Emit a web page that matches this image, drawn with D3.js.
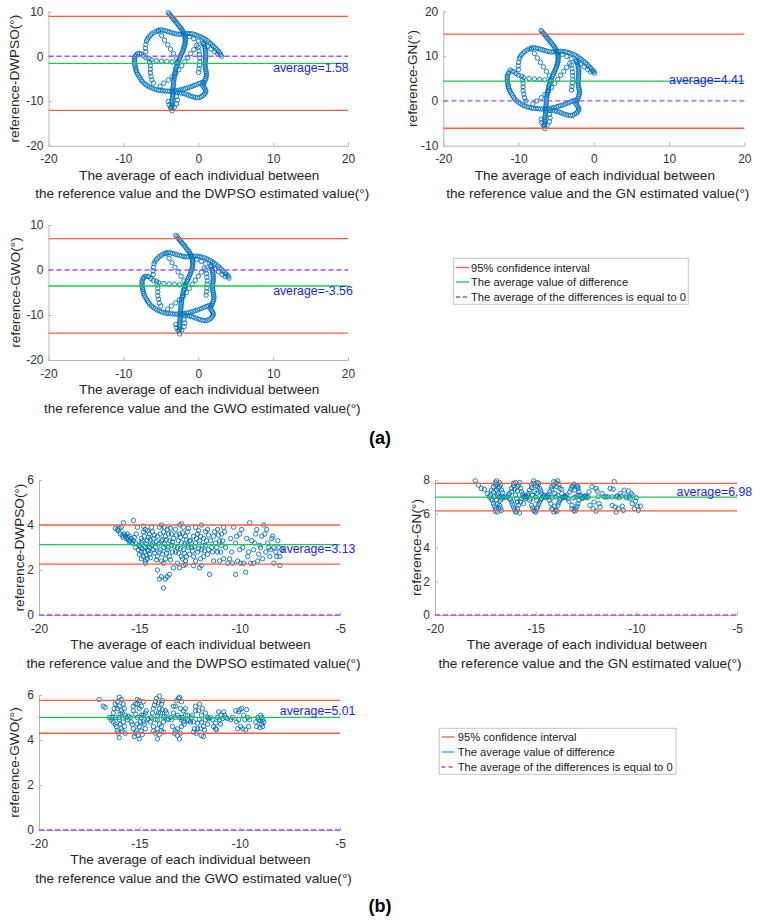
<!DOCTYPE html>
<html>
<head>
<meta charset="utf-8">
<script src="https://cdnjs.cloudflare.com/ajax/libs/d3/7.8.5/d3.min.js"></script>
<style>
  body { margin: 0; background: #fff; }
  text { font-family: "Liberation Sans", Arial, sans-serif; }
</style>
</head>
<body>
<script>
// (a) scatter: [average, difference] pairs, strand by strand
var dwpsoA = [
  [-4.0,9.7],[-3.7,9.1],[-3.4,8.5],[-3.1,7.9],[-2.8,7.3],[-2.5,6.6],[-2.2,6.0],[-2.0,5.3],[-1.8,4.6],[-1.75,3.9],[-1.75,3.2],[-1.8,2.5],[-1.95,1.8],[-2.1,1.0],[-2.3,0.3],[-2.5,-0.5],[-2.7,-1.3],[-2.85,-2.1],[-3.0,-2.9],[-3.1,-3.7],[-3.2,-4.5],[-3.25,-5.3],[-3.3,-6.1],[-3.35,-6.9],[-3.4,-7.7],[-3.4,-8.5],[-3.45,-9.3],[-3.5,-10.1],[-3.5,-10.9],[-3.55,-11.6],[-3.5,-12.2],
  [-3.85,9.4],[-3.55,8.8],[-3.25,8.2],[-2.95,7.6],[-2.65,6.95],[-2.35,6.3],[-2.1,5.65],[-1.9,4.95],[-1.75,4.25],[-1.72,3.55],[-1.75,2.85],[-1.85,2.15],[-2.0,1.4],[-2.2,0.65],[-2.4,-0.1],[-2.6,-0.9],[-2.8,-1.7],[-2.95,-2.5],[-3.05,-3.3],[-3.15,-4.1],[-3.22,-4.9],[-3.3,-5.7],[-3.32,-6.5],[-3.38,-7.3],[-3.4,-8.1],[-3.42,-8.9],[-3.48,-9.7],[-3.5,-10.5],[-3.52,-11.25],
  [-7.0,1.0],[-7.05,1.8],[-7.0,2.6],[-6.9,3.4],[-6.6,4.3],[-6.2,5.0],[-5.6,5.6],[-5.0,5.9],[-4.4,5.7],[-3.8,5.4],[-3.2,5.1],[-2.6,4.9],[-2.0,5.0],[-1.4,5.1],[-0.8,5.0],[-0.2,4.7],[0.4,4.3],[0.9,3.8],[1.4,3.2],[1.9,2.5],[2.3,1.8],[2.7,1.1],[3.0,0.4],[3.1,0.0],
  [-6.8,3.85],[-6.4,4.65],[-5.9,5.3],[-5.3,5.8],[-4.7,5.8],[-4.1,5.55],[-3.5,5.25],[-2.9,5.0],[-2.3,4.95],[-1.7,5.05],[-1.1,5.05],[-0.5,4.85],[0.1,4.5],[0.65,4.05],[1.15,3.5],[1.65,2.85],[2.1,2.15],[2.5,1.45],[2.85,0.75],
  [-1.2,4.4],[-0.6,3.9],[0.0,3.4],[0.6,2.8],[1.2,2.2],[1.7,1.6],[2.2,1.0],[2.6,0.5],
  [0.7,3.0],[0.85,2.2],[0.95,1.4],[1.0,0.6],[1.0,-0.2],[0.95,-1.0],[0.9,-1.8],[0.95,-2.6],[1.05,-3.4],[1.1,-4.2],[1.0,-5.0],[0.8,-5.8],[0.6,-6.6],
  [0.78,2.6],[0.9,1.8],[0.98,1.0],[1.0,0.2],[0.98,-0.6],[0.92,-1.4],[0.92,-2.2],[1.0,-3.0],[1.08,-3.8],[1.05,-4.6],[0.9,-5.4],[0.7,-6.2],
  [0.0,2.0],[0.1,1.2],[0.15,0.4],[0.2,-0.4],[0.2,-1.2],[0.15,-2.0],[0.1,-2.8],[0.05,-3.6],
  [0.9,-7.3],[1.0,-8.0],[0.7,-8.7],[0.2,-9.2],[-0.4,-9.2],[-1.0,-8.9],[-1.6,-8.5],[-2.2,-8.2],[-2.8,-8.1],
  [0.75,-6.95],[1.0,-7.65],[0.88,-8.35],[0.45,-8.95],[-0.1,-9.25],[-0.7,-9.05],[-1.3,-8.7],[-1.9,-8.35],[-2.5,-8.15],
  [-2.8,-1.4],[-3.5,-1.3],[-4.2,-1.2],[-4.9,-1.1],[-5.6,-1.0],[-6.3,-0.8],[-7.0,-0.3],[-7.6,0.5],[-8.1,0.6],[-8.4,0.0],[-8.5,-0.8],[-8.5,-1.6],[-8.4,-2.4],[-8.3,-3.2],[-8.1,-4.0],[-7.8,-4.8],[-7.5,-5.6],[-7.0,-6.3],[-6.5,-6.9],[-5.9,-7.3],[-5.3,-7.6],[-4.7,-7.7],[-4.1,-7.8],[-3.5,-7.8],[-2.9,-7.7],[-2.3,-7.5],[-1.7,-7.2],[-1.1,-6.9],[-0.5,-6.5],[0.1,-6.1],[0.6,-5.8],
  [-7.3,0.1],[-7.85,0.6],[-8.3,0.3],[-8.5,-0.4],[-8.5,-1.2],[-8.45,-2.0],[-8.35,-2.8],[-8.2,-3.6],[-7.95,-4.4],[-7.65,-5.2],[-7.25,-6.0],[-6.75,-6.6],[-6.2,-7.1],[-5.6,-7.45],[-5.0,-7.65],[-4.4,-7.75],[-3.8,-7.8],[-3.2,-7.75],[-2.6,-7.6],[-2.0,-7.35],[-1.4,-7.05],[-0.8,-6.7],[-0.2,-6.3],[0.35,-5.95],
  [-6.6,-0.5],[-6.5,-1.3],[-6.4,-2.1],[-6.4,-2.9],[-6.4,-3.7],[-6.3,-4.5],[-6.2,-5.3],[-6.0,-6.0],
  [-5.3,5.6],[-4.9,4.6],[-4.5,3.6],[-4.1,2.6],[-3.7,1.6],[-3.3,0.6],[-2.9,-0.4],
  [-0.2,2.4],[-0.6,1.5],[-1.0,0.6],[-1.4,-0.3],[-1.8,-1.2],[-2.2,-2.1],[-2.6,-3.0],[-3.0,-3.8],[-3.5,-4.6],[-4.0,-5.3],[-4.6,-6.0],[-5.1,-6.7],
  [-4.0,-10.1],[-3.9,-10.8],[-3.7,-11.5],[-3.2,-11.4],[-2.9,-10.6],[-2.8,-9.8],[-2.9,-9.0]
];
var gnA = [
  [-7.0,15.7],[-6.7,15.1],[-6.4,14.5],[-6.1,13.9],[-5.8,13.3],[-5.5,12.6],[-5.2,12.0],[-5.0,11.3],[-4.8,10.6],[-4.75,9.9],[-4.75,9.2],[-4.8,8.5],[-4.95,7.8],[-5.1,7.0],[-5.3,6.3],[-5.5,5.5],[-5.7,4.7],[-5.85,3.9],[-6.0,3.1],[-6.1,2.3],[-6.2,1.5],[-6.25,0.7],[-6.3,-0.1],[-6.35,-0.9],[-6.4,-1.7],[-6.4,-2.5],[-6.45,-3.3],[-6.5,-4.1],[-6.5,-4.9],[-6.55,-5.6],[-6.5,-6.2],
  [-6.85,15.4],[-6.55,14.8],[-6.25,14.2],[-5.95,13.6],[-5.65,12.95],[-5.35,12.3],[-5.1,11.65],[-4.9,10.95],[-4.75,10.25],[-4.72,9.55],[-4.75,8.85],[-4.85,8.15],[-5.0,7.4],[-5.2,6.65],[-5.4,5.9],[-5.6,5.1],[-5.8,4.3],[-5.95,3.5],[-6.05,2.7],[-6.15,1.9],[-6.22,1.1],[-6.3,0.3],[-6.32,-0.5],[-6.38,-1.3],[-6.4,-2.1],[-6.42,-2.9],[-6.48,-3.7],[-6.5,-4.5],[-6.52,-5.25],
  [-10.0,7.0],[-10.05,7.8],[-10.0,8.6],[-9.9,9.4],[-9.6,10.3],[-9.2,11.0],[-8.6,11.6],[-8.0,11.9],[-7.4,11.7],[-6.8,11.4],[-6.2,11.1],[-5.6,10.9],[-5.0,11.0],[-4.4,11.1],[-3.8,11.0],[-3.2,10.7],[-2.6,10.3],[-2.1,9.8],[-1.6,9.2],[-1.1,8.5],[-0.7,7.8],[-0.3,7.1],[0.0,6.6],[0.1,6.2],
  [-9.8,9.85],[-9.4,10.65],[-8.9,11.3],[-8.3,11.8],[-7.7,11.8],[-7.1,11.55],[-6.5,11.25],[-5.9,11.0],[-5.3,10.95],[-4.7,11.05],[-4.1,11.05],[-3.5,10.85],[-2.9,10.5],[-2.35,10.05],[-1.85,9.5],[-1.35,8.85],[-0.9,8.15],[-0.5,7.45],[-0.15,6.75],
  [-4.2,10.4],[-3.6,9.9],[-3.0,9.4],[-2.4,8.8],[-1.8,8.2],[-1.3,7.6],[-0.8,7.0],[-0.4,6.5],
  [-2.3,9.0],[-2.15,8.2],[-2.05,7.4],[-2.0,6.6],[-2.0,5.8],[-2.05,5.0],[-2.1,4.2],[-2.05,3.4],[-1.95,2.6],[-1.9,1.8],[-2.0,1.0],[-2.2,0.2],[-2.4,-0.6],
  [-2.22,8.6],[-2.1,7.8],[-2.02,7.0],[-2.0,6.2],[-2.02,5.4],[-2.08,4.6],[-2.08,3.8],[-2.0,3.0],[-1.92,2.2],[-1.95,1.4],[-2.1,0.6],[-2.3,-0.2],
  [-3.0,8.0],[-2.9,7.2],[-2.85,6.4],[-2.8,5.6],[-2.8,4.8],[-2.85,4.0],[-2.9,3.2],[-2.95,2.4],
  [-2.1,-1.3],[-2.0,-2.0],[-2.3,-2.7],[-2.8,-3.2],[-3.4,-3.2],[-4.0,-2.9],[-4.6,-2.5],[-5.2,-2.2],[-5.8,-2.1],
  [-2.25,-0.95],[-2.0,-1.65],[-2.12,-2.35],[-2.55,-2.95],[-3.1,-3.25],[-3.7,-3.05],[-4.3,-2.7],[-4.9,-2.35],[-5.5,-2.15],
  [-5.8,4.6],[-6.5,4.7],[-7.2,4.8],[-7.9,4.9],[-8.6,5.0],[-9.3,5.2],[-10.0,5.7],[-10.6,6.5],[-11.1,6.9],[-11.4,6.0],[-11.5,5.2],[-11.5,4.4],[-11.4,3.6],[-11.3,2.8],[-11.1,2.0],[-10.8,1.2],[-10.5,0.4],[-10.0,-0.3],[-9.5,-0.9],[-8.9,-1.3],[-8.3,-1.6],[-7.7,-1.7],[-7.1,-1.8],[-6.5,-1.8],[-5.9,-1.7],[-5.3,-1.5],[-4.7,-1.2],[-4.1,-0.9],[-3.5,-0.5],[-2.9,-0.1],[-2.4,0.2],
  [-10.3,6.1],[-10.85,6.6],[-11.3,6.3],[-11.5,5.6],[-11.5,4.8],[-11.45,4.0],[-11.35,3.2],[-11.2,2.4],[-10.95,1.6],[-10.65,0.8],[-10.25,0.0],[-9.75,-0.6],[-9.2,-1.1],[-8.6,-1.45],[-8.0,-1.65],[-7.4,-1.75],[-6.8,-1.8],[-6.2,-1.75],[-5.6,-1.6],[-5.0,-1.35],[-4.4,-1.05],[-3.8,-0.7],[-3.2,-0.3],[-2.65,0.05],
  [-9.6,5.5],[-9.5,4.7],[-9.4,3.9],[-9.4,3.1],[-9.4,2.3],[-9.3,1.5],[-9.2,0.7],[-9.0,0.0],
  [-8.3,11.6],[-7.9,10.6],[-7.5,9.6],[-7.1,8.6],[-6.7,7.6],[-6.3,6.6],[-5.9,5.6],
  [-3.2,8.4],[-3.6,7.5],[-4.0,6.6],[-4.4,5.7],[-4.8,4.8],[-5.2,3.9],[-5.6,3.0],[-6.0,2.2],[-6.5,1.4],[-7.0,0.7],[-7.6,0.0],[-8.1,-0.7],
  [-7.0,-4.1],[-6.9,-4.8],[-6.7,-5.5],[-6.2,-5.4],[-5.9,-4.6],[-5.8,-3.8],[-5.9,-3.0]
];
var gwoA = [
  [-3.0,7.7],[-2.7,7.1],[-2.4,6.5],[-2.1,5.9],[-1.8,5.3],[-1.5,4.6],[-1.2,4.0],[-1.0,3.3],[-0.8,2.6],[-0.75,1.9],[-0.75,1.2],[-0.8,0.5],[-0.95,-0.2],[-1.1,-1.0],[-1.3,-1.7],[-1.5,-2.5],[-1.7,-3.3],[-1.85,-4.1],[-2.0,-4.9],[-2.1,-5.7],[-2.2,-6.5],[-2.25,-7.3],[-2.3,-8.1],[-2.35,-8.9],[-2.4,-9.7],[-2.4,-10.5],[-2.45,-11.3],[-2.5,-12.1],[-2.5,-12.9],[-2.55,-13.6],[-2.5,-14.2],
  [-2.85,7.4],[-2.55,6.8],[-2.25,6.2],[-1.95,5.6],[-1.65,4.95],[-1.35,4.3],[-1.1,3.65],[-0.9,2.95],[-0.75,2.25],[-0.72,1.55],[-0.75,0.85],[-0.85,0.15],[-1.0,-0.6],[-1.2,-1.35],[-1.4,-2.1],[-1.6,-2.9],[-1.8,-3.7],[-1.95,-4.5],[-2.05,-5.3],[-2.15,-6.1],[-2.22,-6.9],[-2.3,-7.7],[-2.32,-8.5],[-2.38,-9.3],[-2.4,-10.1],[-2.42,-10.9],[-2.48,-11.7],[-2.5,-12.5],[-2.52,-13.25],
  [-6.0,-1.0],[-6.05,-0.2],[-6.0,0.6],[-5.9,1.4],[-5.6,2.3],[-5.2,3.0],[-4.6,3.6],[-4.0,3.9],[-3.4,3.7],[-2.8,3.4],[-2.2,3.1],[-1.6,2.9],[-1.0,3.0],[-0.4,3.1],[0.2,3.0],[0.8,2.7],[1.4,2.3],[1.9,1.8],[2.4,1.2],[2.9,0.5],[3.3,-0.2],[3.7,-0.9],[4.0,-1.4],[4.1,-1.8],
  [-5.8,1.85],[-5.4,2.65],[-4.9,3.3],[-4.3,3.8],[-3.7,3.8],[-3.1,3.55],[-2.5,3.25],[-1.9,3.0],[-1.3,2.95],[-0.7,3.05],[-0.1,3.05],[0.5,2.85],[1.1,2.5],[1.65,2.05],[2.15,1.5],[2.65,0.85],[3.1,0.15],[3.5,-0.55],[3.85,-1.2],
  [-0.2,2.4],[0.4,1.9],[1.0,1.4],[1.6,0.8],[2.2,0.2],[2.7,-0.4],[3.2,-1.0],[3.6,-1.5],
  [1.7,1.0],[1.85,0.2],[1.95,-0.6],[2.0,-1.4],[2.0,-2.2],[1.95,-3.0],[1.9,-3.8],[1.95,-4.6],[2.05,-5.4],[2.1,-6.2],[2.0,-7.0],[1.8,-7.8],[1.6,-8.6],
  [1.78,0.6],[1.9,-0.2],[1.98,-1.0],[2.0,-1.8],[1.98,-2.6],[1.92,-3.4],[1.92,-4.2],[2.0,-5.0],[2.08,-5.8],[2.05,-6.6],[1.9,-7.4],[1.7,-8.2],
  [1.0,0.0],[1.1,-0.8],[1.15,-1.6],[1.2,-2.4],[1.2,-3.2],[1.15,-4.0],[1.1,-4.8],[1.05,-5.6],
  [1.9,-9.3],[2.0,-10.0],[1.7,-10.7],[1.2,-11.2],[0.6,-11.2],[0.0,-10.9],[-0.6,-10.5],[-1.2,-10.2],[-1.8,-10.1],
  [1.75,-8.95],[2.0,-9.65],[1.88,-10.35],[1.45,-10.95],[0.9,-11.25],[0.3,-11.05],[-0.3,-10.7],[-0.9,-10.35],[-1.5,-10.15],
  [-1.8,-3.4],[-2.5,-3.3],[-3.2,-3.2],[-3.9,-3.1],[-4.6,-3.0],[-5.3,-2.8],[-6.0,-2.3],[-6.6,-1.5],[-7.1,-1.4],[-7.4,-2.0],[-7.5,-2.8],[-7.5,-3.6],[-7.4,-4.4],[-7.3,-5.2],[-7.1,-6.0],[-6.8,-6.8],[-6.5,-7.6],[-6.0,-8.3],[-5.5,-8.9],[-4.9,-9.3],[-4.3,-9.6],[-3.7,-9.7],[-3.1,-9.8],[-2.5,-9.8],[-1.9,-9.7],[-1.3,-9.5],[-0.7,-9.2],[-0.1,-8.9],[0.5,-8.5],[1.1,-8.1],[1.6,-7.8],
  [-6.3,-1.9],[-6.85,-1.4],[-7.3,-1.7],[-7.5,-2.4],[-7.5,-3.2],[-7.45,-4.0],[-7.35,-4.8],[-7.2,-5.6],[-6.95,-6.4],[-6.65,-7.2],[-6.25,-8.0],[-5.75,-8.6],[-5.2,-9.1],[-4.6,-9.45],[-4.0,-9.65],[-3.4,-9.75],[-2.8,-9.8],[-2.2,-9.75],[-1.6,-9.6],[-1.0,-9.35],[-0.4,-9.05],[0.2,-8.7],[0.8,-8.3],[1.35,-7.95],
  [-5.6,-2.5],[-5.5,-3.3],[-5.4,-4.1],[-5.4,-4.9],[-5.4,-5.7],[-5.3,-6.5],[-5.2,-7.3],[-5.0,-8.0],
  [-4.3,3.6],[-3.9,2.6],[-3.5,1.6],[-3.1,0.6],[-2.7,-0.4],[-2.3,-1.4],[-1.9,-2.4],
  [0.8,0.4],[0.4,-0.5],[0.0,-1.4],[-0.4,-2.3],[-0.8,-3.2],[-1.2,-4.1],[-1.6,-5.0],[-2.0,-5.8],[-2.5,-6.6],[-3.0,-7.3],[-3.6,-8.0],[-4.1,-8.7],
  [-3.0,-12.1],[-2.9,-12.8],[-2.7,-13.5],[-2.2,-13.4],[-1.9,-12.6],[-1.8,-11.8],[-1.9,-11.0]
];

// (b) scatter
var dwpsoB = [
  [-16.1,3.8],[-16.0,3.85],[-15.9,3.9],[-15.8,4.1],[-15.7,3.5],[-15.6,3.45],[-15.8,3.45],[-15.5,3.5],[-15.4,3.4],[-15.6,3.6],[-15.3,3.3],[-15.2,3.2],[-15.5,3.25],[-15.3,4.2],[-15.1,3.9],
  [-16.2,3.85],[-16.05,3.75],[-15.95,3.6],[-15.85,3.55],[-15.75,3.6],[-15.65,3.4],[-15.55,3.35],[-15.45,3.3],[-15.35,3.2],[-15.25,3.45],[-15.2,3.0],[-15.15,3.6],
  [-15.0,3.1],[-14.9,2.8],[-14.9,3.4],[-14.8,2.6],[-14.8,3.7],[-14.7,2.4],[-14.7,3.0],[-14.7,3.8],[-14.6,2.9],[-14.6,3.3],[-14.6,2.5],[-14.5,3.6],[-14.5,2.7],[-14.4,3.1],[-14.4,3.9],[-14.3,2.9],[-14.3,3.4],[-15.0,2.7],[-14.9,3.2],[-14.5,3.0],
  [-15.05,2.9],[-14.95,3.0],[-14.85,2.95],[-14.85,3.3],[-14.75,3.5],[-14.75,2.8],[-14.65,3.15],[-14.65,2.65],[-14.55,3.45],[-14.55,2.85],[-14.45,3.35],[-14.45,2.55],[-14.35,3.7],[-14.35,3.15],[-14.25,2.75],[-14.25,3.55],[-14.8,3.95],[-14.6,3.75],[-14.9,2.5],[-14.7,2.3],
  [-14.2,3.0],[-14.1,2.6],[-14.1,3.5],[-14.0,3.9],[-14.0,2.8],[-13.9,3.3],[-13.9,2.4],[-13.9,4.0],[-13.8,3.7],[-13.8,3.0],[-13.7,2.5],[-13.7,3.5],[-13.6,3.8],[-13.6,2.9],[-13.5,3.3],[-13.5,2.6],[-13.4,3.1],[-13.4,3.6],[-14.1,2.0],[-13.9,1.7],[-13.8,1.2],[-13.7,1.6],[-13.6,1.7],[-13.5,1.8],[-14.0,1.6],[-13.3,2.1],
  [-14.15,3.25],[-14.05,3.15],[-13.95,2.9],[-13.95,3.6],[-13.85,3.35],[-13.85,2.7],[-13.75,3.9],[-13.75,3.15],[-13.65,2.75],[-13.65,3.35],[-13.55,3.6],[-13.55,3.0],[-13.45,2.45],[-13.45,3.85],[-13.35,3.25],[-13.35,2.8],[-14.15,2.45],[-13.8,2.3],
  [-13.3,3.4],[-13.2,2.8],[-13.2,3.8],[-13.1,3.0],[-13.1,2.3],[-13.0,3.6],[-13.0,4.0],[-12.9,2.6],[-12.9,3.2],[-12.8,3.9],[-12.8,2.9],[-12.7,3.5],[-12.7,2.4],[-12.6,3.1],[-12.6,3.7],[-12.5,2.7],[-12.5,3.3],[-13.0,2.1],[-12.8,2.2],
  [-13.25,3.05],[-13.15,3.55],[-13.05,2.75],[-13.05,3.3],[-12.95,3.45],[-12.95,2.95],[-12.85,3.65],[-12.85,2.5],[-12.75,3.15],[-12.75,2.75],[-12.65,3.35],[-12.65,2.6],[-12.55,3.0],[-12.55,3.85],[-12.9,4.05],[-12.7,2.25],
  [-12.4,3.0],[-12.3,3.5],[-12.3,2.6],[-12.2,3.9],[-12.2,3.2],[-12.1,2.8],[-12.1,3.6],[-12.0,2.1],[-12.0,3.3],[-11.9,4.0],[-11.9,2.9],[-11.8,3.4],[-11.8,2.6],[-11.7,3.7],[-11.7,3.1],[-11.6,3.8],[-11.6,2.7],[-11.5,1.8],[-12.3,2.2],
  [-12.45,3.3],[-12.35,2.85],[-12.25,3.05],[-12.15,3.4],[-12.05,2.95],[-12.05,3.75],[-11.95,3.5],[-11.95,2.5],[-11.85,3.1],[-11.75,2.85],[-11.65,3.3],[-11.55,3.55],[-11.55,2.9],[-12.2,2.4],[-11.9,2.2],
  [-11.4,3.0],[-11.3,3.5],[-11.3,2.4],[-11.2,3.2],[-11.1,3.8],[-11.1,2.8],[-11.0,3.3],[-11.0,2.4],[-10.9,3.6],[-10.9,3.1],[-10.8,3.9],[-10.8,2.5],
  [-11.45,3.3],[-11.35,2.8],[-11.25,3.7],[-11.15,3.0],[-11.05,3.55],[-10.95,2.8],[-10.85,3.3],[-10.75,3.7],[-10.7,3.0],
  [-10.6,2.3],[-10.5,2.5],[-10.4,2.8],[-10.3,3.9],[-10.2,3.2],[-10.2,1.8],[-10.1,2.4],[-10.0,3.6],[-10.0,2.9],[-9.9,3.8],
  [-10.45,3.4],[-10.35,2.3],[-10.15,3.5],[-9.95,2.3],[-9.85,3.0],
  [-9.8,2.3],[-9.7,1.9],[-9.6,2.6],[-9.5,4.1],[-9.4,3.3],[-9.3,2.9],[-9.2,3.6],[-9.1,2.4],[-9.0,3.1],[-9.3,2.3],
  [-9.65,3.4],[-9.55,2.8],[-9.45,2.3],[-9.25,3.2],[-9.15,3.8],[-9.05,2.7],
  [-8.9,3.5],[-8.8,4.0],[-8.7,2.8],[-8.6,3.2],[-8.5,2.6],[-8.4,3.4],[-8.3,2.3],[-8.3,3.0],[-8.2,2.8],[-8.1,3.3],[-8.0,2.2],[-8.0,2.6],[-7.9,2.9],
  [-8.95,3.0],[-8.85,2.5],[-8.75,3.6],[-8.65,3.8],[-8.55,3.0],[-8.45,2.9],[-8.35,3.5],[-8.15,2.6],[-8.05,3.0]
];
var gnB = [
  [-18.0,7.95],[-17.85,7.7],[-17.7,7.5],[-17.55,7.45],[-17.4,7.2],[-17.3,7.0],
  [-17.2,6.9],[-17.1,7.3],[-17.1,6.6],[-17.0,7.7],[-17.0,6.3],[-16.95,7.95],[-16.9,7.1],[-16.9,6.1],[-16.85,7.5],[-16.8,6.5],[-16.8,7.85],[-16.75,6.8],[-16.7,7.4],[-16.7,6.2],[-16.65,7.0],[-17.05,7.0],[-16.95,6.8],[-16.85,7.2],
  [-17.25,7.1],[-17.15,6.8],[-17.1,7.6],[-17.05,6.45],[-17.0,7.85],[-17.0,6.15],[-16.95,7.4],[-16.9,6.6],[-16.9,7.75],[-16.85,6.3],[-16.8,7.0],[-16.8,7.6],[-16.75,6.35],[-16.7,6.9],[-16.65,7.25],[-16.6,6.95],[-17.2,7.4],[-16.75,7.7],
  [-16.4,7.0],[-16.3,7.2],[-16.2,6.7],[-16.2,7.5],[-16.1,6.4],[-16.1,7.8],[-16.0,6.1],[-16.0,7.1],[-15.9,7.6],[-15.9,6.3],[-15.8,6.05],[-15.8,7.85],[-15.7,6.9],[-15.7,7.3],[-15.6,6.6],[-15.6,7.0],[-15.5,6.9],[-16.3,6.9],[-15.95,6.9],
  [-16.35,7.1],[-16.25,6.85],[-16.2,7.3],[-16.15,6.55],[-16.1,7.65],[-16.05,6.25],[-16.0,7.85],[-15.95,6.15],[-15.9,7.35],[-15.85,6.5],[-15.85,7.7],[-15.75,6.7],[-15.75,7.5],[-15.65,7.15],[-15.55,7.05],[-15.5,7.0],[-16.05,7.45],[-15.9,6.7],
  [-15.4,7.1],[-15.3,6.8],[-15.3,7.4],[-15.2,6.5],[-15.2,7.7],[-15.1,6.2],[-15.1,7.95],[-15.0,7.0],[-15.0,6.1],[-14.9,7.85],[-14.9,6.4],[-14.8,7.5],[-14.8,6.7],[-14.7,7.2],[-14.7,6.9],[-14.6,7.1],[-15.05,7.3],[-14.95,6.8],
  [-15.45,7.0],[-15.35,7.2],[-15.25,6.9],[-15.2,7.55],[-15.15,6.35],[-15.1,7.8],[-15.05,6.15],[-15.0,7.65],[-14.95,6.3],[-14.9,7.6],[-14.85,6.55],[-14.85,7.8],[-14.75,6.85],[-14.75,7.35],[-14.65,7.0],[-14.55,7.05],[-15.15,7.1],[-14.95,7.2],
  [-14.4,7.0],[-14.3,6.8],[-14.3,7.3],[-14.2,6.3],[-14.2,7.6],[-14.1,6.1],[-14.1,7.9],[-14.0,7.0],[-14.0,6.2],[-13.9,7.95],[-13.9,6.5],[-13.8,7.5],[-13.8,6.8],[-13.7,7.2],[-13.6,7.0],[-14.05,7.2],
  [-14.45,7.05],[-14.35,7.15],[-14.25,6.6],[-14.2,7.45],[-14.15,6.25],[-14.1,7.7],[-14.05,6.45],[-14.0,7.85],[-13.95,6.15],[-13.95,7.6],[-13.85,6.65],[-13.85,7.75],[-13.75,6.9],[-13.7,7.45],[-13.65,6.95],[-13.55,7.05],[-14.2,6.95],[-13.9,7.1],
  [-13.5,7.0],[-13.4,6.9],[-13.3,7.3],[-13.2,7.6],[-13.2,6.5],[-13.1,6.2],[-13.1,7.75],[-13.0,7.0],[-13.0,6.3],[-12.9,7.5],[-12.9,6.6],[-12.8,7.1],[-12.7,6.9],[-12.6,7.0],
  [-13.45,7.1],[-13.35,6.75],[-13.25,7.45],[-13.2,6.3],[-13.15,7.65],[-13.05,6.15],[-13.05,7.4],[-12.95,6.45],[-12.95,7.65],[-12.85,6.8],[-12.85,7.3],[-12.75,7.05],[-12.65,6.95],[-13.1,6.95],[-12.9,7.1],
  [-16.5,7.0],[-15.5,7.05],[-14.5,6.95],[-13.55,7.0],[-12.55,7.05],[-12.45,6.95],[-11.5,7.0],[-10.95,7.05],[-10.5,6.95],[-12.9,7.6],[-12.5,7.05],
  [-12.4,7.0],[-12.3,6.5],[-12.2,7.6],[-12.1,6.7],[-12.0,6.15],[-12.0,7.5],[-11.9,7.0],[-11.8,6.4],[-11.7,7.2],[-11.6,7.0],
  [-12.35,7.3],[-12.15,6.3],[-11.95,7.35],[-11.85,6.6],
  [-11.4,7.0],[-11.3,7.5],[-11.2,6.5],[-11.1,7.9],[-11.0,6.1],[-11.0,7.0],[-10.9,6.3],[-10.8,7.2],[-10.7,6.45],[-10.6,7.4],[-11.2,7.0],[-10.85,6.95],
  [-11.15,7.45],[-11.05,6.4],[-10.75,7.05],[-10.65,6.2],
  [-10.5,7.05],[-10.4,7.35],[-10.3,6.9],[-10.2,7.1],[-10.2,6.6],[-10.1,6.3],[-10.0,6.95],[-9.95,6.45],[-9.9,6.2],[-9.8,6.45],
  [-10.35,7.0],[-10.25,7.2],[-10.05,6.75]
];
var gwoB = [
  [-17.0,5.8],[-16.8,5.5],[-16.7,5.45],[-16.5,5.0],[-16.4,4.9],
  [-16.3,5.2],[-16.2,4.7],[-16.2,5.6],[-16.1,4.4],[-16.1,5.4],[-16.0,4.1],[-16.0,5.0],[-16.0,5.9],[-15.9,4.5],[-15.9,5.3],[-15.8,4.8],[-15.8,5.6],[-15.7,5.1],[-15.7,4.3],[-15.6,4.9],[-16.2,5.0],[-15.95,5.15],
  [-16.35,5.0],[-16.25,5.4],[-16.15,4.6],[-16.1,5.7],[-16.05,4.3],[-16.0,5.5],[-15.95,4.7],[-15.9,5.8],[-15.85,4.4],[-15.85,5.2],[-15.75,4.6],[-15.75,5.4],[-15.65,5.0],[-15.55,5.05],[-16.3,4.8],[-16.0,4.9],
  [-15.4,4.8],[-15.3,5.3],[-15.3,4.5],[-15.2,5.6],[-15.2,4.3],[-15.1,5.0],[-15.1,5.8],[-15.0,4.05],[-15.0,4.6],[-15.0,5.4],[-14.9,5.1],[-14.9,4.4],[-14.8,5.7],[-14.8,4.8],[-14.7,5.2],[-14.6,4.9],[-14.7,4.5],
  [-15.45,5.0],[-15.35,4.7],[-15.3,5.5],[-15.25,4.15],[-15.2,5.15],[-15.15,4.4],[-15.1,5.6],[-15.05,4.2],[-15.0,5.75],[-14.95,4.8],[-14.9,5.5],[-14.85,4.25],[-14.8,5.1],[-14.75,4.7],[-14.65,5.3],[-14.55,4.95],[-15.1,4.7],[-14.9,5.0],
  [-14.4,5.0],[-14.3,5.4],[-14.3,4.6],[-14.2,5.7],[-14.2,4.3],[-14.1,5.1],[-14.1,4.05],[-14.0,5.95],[-14.0,4.7],[-14.0,5.4],[-13.9,4.4],[-13.9,5.6],[-13.8,5.0],[-13.8,4.8],[-13.7,5.3],[-13.6,4.9],[-14.05,5.2],
  [-14.45,4.8],[-14.35,5.2],[-14.3,4.4],[-14.25,5.55],[-14.2,4.9],[-14.15,5.85],[-14.1,4.5],[-14.05,5.65],[-14.0,4.25],[-13.95,5.2],[-13.9,4.6],[-13.85,5.75],[-13.8,4.35],[-13.75,5.05],[-13.65,5.2],[-13.55,4.95],[-14.1,4.9],[-13.85,5.35],
  [-13.4,4.9],[-13.3,5.2],[-13.2,4.4],[-13.2,5.5],[-13.1,4.2],[-13.0,5.9],[-13.0,4.05],[-13.0,5.0],[-12.9,5.7],[-12.9,4.6],[-12.8,5.3],[-12.8,4.8],[-12.7,5.1],[-12.6,4.9],[-13.1,5.1],
  [-13.45,5.0],[-13.35,4.6],[-13.3,5.5],[-13.25,4.3],[-13.15,5.75],[-13.1,4.5],[-13.05,5.85],[-12.95,4.3],[-12.95,5.4],[-12.85,5.0],[-12.75,4.7],[-12.7,5.4],[-12.6,5.1],[-12.55,4.85],[-13.2,5.0],[-12.9,4.9],
  [-12.4,5.0],[-12.3,4.8],[-12.2,5.3],[-12.1,4.5],[-12.0,5.6],[-12.0,4.9],[-11.9,4.2],[-11.9,5.1],[-11.8,4.6],[-11.8,4.15],[-11.7,4.9],[-11.6,5.0],[-12.15,4.3],
  [-12.45,4.8],[-12.35,5.1],[-12.25,4.5],[-12.2,5.5],[-12.1,4.75],[-12.05,5.3],[-11.95,4.5],[-11.9,4.8],[-11.85,5.4],[-11.75,4.45],[-11.7,5.2],[-11.6,4.7],[-11.55,4.95],[-12.3,4.35],
  [-11.3,4.6],[-11.2,4.5],[-11.1,5.0],[-11.0,4.9],[-10.9,5.1],[-10.8,5.25],[-10.7,5.0],[-10.6,4.95],[-11.2,4.75],
  [-11.45,5.0],[-11.35,4.9],[-11.15,4.45],[-11.05,5.25],[-10.95,4.7],[-10.85,4.95],[-10.75,5.1],
  [-10.2,5.3],[-10.1,4.5],[-10.05,4.9],[-10.0,5.35],[-9.95,4.6],[-9.9,5.4],[-9.8,5.1],[-9.7,4.45],[-9.6,5.0],[-9.5,4.9],
  [-10.45,4.9],[-10.35,5.0],[-10.15,4.8],[-10.05,5.25],[-9.85,4.5],[-9.75,4.9],[-9.65,5.35],[-9.55,4.6],
  [-9.2,4.8],[-9.1,5.0],[-9.0,4.55],[-8.95,5.1],[-8.9,4.7],[-8.85,4.9],[-8.8,4.8],
  [-9.15,4.6],[-9.05,4.9],[-8.95,4.85],[-8.9,5.0],[-8.85,4.6]
];

// mean difference and 95% limits per panel
var means = [-1.58, 4.41, -3.56, 3.13, 6.98, 5.01];
var upperLimits = [8.92, 14.92, 6.96, 4.0, 7.8, 5.76];
var lowerLimits = [-12.08, -6.1, -14.04, 2.26, 6.17, 4.3];
var avgLabels = ["average=1.58", "average=4.41", "average=-3.56", "average=3.13", "average=6.98", "average=5.01"];
var methods = ["DWPSO", "GN", "GWO", "DWPSO", "GN", "GWO"];

var xTicksA = [-20, -10, 0, 10, 20];
var xTicksB = [-20, -15, -10, -5];
var yTicksA1 = [-20, -10, 0, 10];
var yTicksA2 = [-10, 0, 10, 20];
var yTicksB1 = [0, 2, 4, 6];
var yTicksB2 = [0, 2, 4, 6, 8];

var legendLabels = ["95% confidence interval", "The average value of difference", "The average of the differences is equal to 0"];

var red = "#ff5c42", green = "#19c94e", purple = "#a24dfc", blue = "#0072BD";

var svg = d3.select("body")
            .append("svg")
            .attr("width", 762)
            .attr("height", 924);

var panels = [
  {pts: dwpsoA, l: 48.5, r: 348, t: 11.5, b: 145.8, xDom: [-20, 20], yDom: [-20, 10], xt: xTicksA, yt: yTicksA1, labX: 10, labDy: 8.4, ylabX: 14},
  {pts: gnA, l: 443.3, r: 744.3, t: 11.3, b: 145.7, xDom: [-20, 20], yDom: [-10, 20], xt: xTicksA, yt: yTicksA2, labX: 10, labDy: 2.4, ylabX: 412},
  {pts: gwoA, l: 48.5, r: 348, t: 225, b: 360, xDom: [-20, 20], yDom: [-20, 10], xt: xTicksA, yt: yTicksA1, labX: 10, labDy: 8.6, ylabX: 15},
  {pts: dwpsoB, l: 39, r: 340, t: 480, b: 615, xDom: [-20, -5], yDom: [0, 6], xt: xTicksB, yt: yTicksB1, labX: -8, labDy: 8, ylabX: 19},
  {pts: gnB, l: 435, r: 737, t: 480, b: 615, xDom: [-20, -5], yDom: [0, 8], xt: xTicksB, yt: yTicksB2, labX: -8, labDy: -1.2, ylabX: 416},
  {pts: gwoB, l: 39, r: 340, t: 695, b: 830, xDom: [-20, -5], yDom: [0, 6], xt: xTicksB, yt: yTicksB1, labX: -8, labDy: -2.3, ylabX: 14}
];

function styleAxis(g) {
  g.attr("font-family", null).attr("font-size", null);
  g.select(".domain").attr("stroke", "#b5b5b5");
  g.selectAll(".tick line").attr("stroke", "#b5b5b5");
  g.selectAll(".tick text").attr("fill", "#333").attr("font-size", "12px");
}

panels.forEach(function(p, i) {
  var xScale = d3.scaleLinear().domain(p.xDom).range([p.l, p.r]);
  var yScale = d3.scaleLinear().domain(p.yDom).range([p.b, p.t]);
  var g = svg.append("g");
  var fmt = function(d) { return String(d); };

  g.append("g")
   .attr("transform", "translate(0," + p.b + ")")
   .call(d3.axisBottom(xScale).tickValues(p.xt).tickFormat(fmt).tickSizeInner(-3).tickSizeOuter(0).tickPadding(9))
   .call(styleAxis);

  g.append("g")
   .attr("transform", "translate(" + p.l + ",0)")
   .call(d3.axisLeft(yScale).tickValues(p.yt).tickFormat(fmt).tickSizeInner(-3).tickSizeOuter(0).tickPadding(5))
   .call(styleAxis);

  g.selectAll("circle")
   .data(p.pts)
   .enter()
   .append("circle")
   .attr("cx", function(d) { return xScale(d[0]); })
   .attr("cy", function(d) { return yScale(d[1]); })
   .attr("r", 2.2)
   .attr("fill", "none")
   .attr("stroke", blue)
   .attr("stroke-width", 0.9);

  // horizontal reference lines
  var hl = [
    {v: upperLimits[i], c: red, dash: null},
    {v: lowerLimits[i], c: red, dash: null},
    {v: means[i], c: green, dash: null},
    {v: 0, c: purple, dash: "5,3"}
  ];
  g.selectAll("line.ref")
   .data(hl)
   .enter()
   .append("line")
   .attr("class", "ref")
   .attr("x1", xScale(p.xDom[0]))
   .attr("x2", xScale(p.xDom[1]))
   .attr("y1", function(d) { return yScale(d.v); })
   .attr("y2", function(d) { return yScale(d.v); })
   .attr("stroke", function(d) { return d.c; })
   .attr("stroke-width", 1.3)
   .attr("stroke-dasharray", function(d) { return d.dash; });

  g.append("text")
   .text(avgLabels[i])
   .attr("x", xScale(p.labX))
   .attr("y", yScale(means[i]) + p.labDy)
   .attr("font-size", "12.3px")
   .attr("fill", "#2222ff");

  var cx = (p.l + p.r) / 2;
  g.append("text")
   .text("The average of each individual between")
   .attr("x", cx + 1)
   .attr("y", p.b + 34)
   .attr("text-anchor", "middle")
   .attr("font-size", "13.6px")
   .attr("fill", "#262626");
  g.append("text")
   .text("the reference value and the " + methods[i] + " estimated value(°)")
   .attr("x", cx + 4)
   .attr("y", p.b + 52.5)
   .attr("text-anchor", "middle")
   .attr("font-size", "13.6px")
   .attr("fill", "#262626");

  g.append("text")
   .text("reference-" + methods[i] + "(°)")
   .attr("transform", "translate(" + p.ylabX + "," + ((p.t + p.b) / 2) + ") rotate(-90)")
   .attr("text-anchor", "middle")
   .attr("dominant-baseline", "central")
   .attr("font-size", "13.6px")
   .attr("fill", "#262626");
});

function drawLegend(x, y, w, h, rowYs, sx, tx) {
  var lg = svg.append("g");
  lg.append("rect")
    .attr("x", x).attr("y", y).attr("width", w).attr("height", h)
    .attr("fill", "#fff").attr("stroke", "#c4c4c4").attr("stroke-width", 1);
  var items = [{c: red, dash: null}, {c: green, dash: null}, {c: purple, dash: "4,3"}];
  items.forEach(function(it, k) {
    lg.append("line")
      .attr("x1", sx).attr("x2", sx + 13)
      .attr("y1", rowYs[k]).attr("y2", rowYs[k])
      .attr("stroke", it.c).attr("stroke-width", 1.3)
      .attr("stroke-dasharray", it.dash);
    lg.append("text")
      .text(legendLabels[k])
      .attr("x", tx).attr("y", rowYs[k])
      .attr("dominant-baseline", "central")
      .attr("font-size", "11.2px")
      .attr("fill", "#1a1a1a");
  });
}

drawLegend(453.3, 258.3, 235, 46, [267.5, 282, 297], 456, 471);
drawLegend(439.3, 728.3, 236.7, 46, [737, 752, 767], 441.5, 457.7);

// sub-figure captions
svg.append("text").text("(a)")
   .attr("x", 380).attr("y", 444)
   .attr("text-anchor", "middle")
   .attr("font-family", "'Liberation Serif', 'DejaVu Serif', serif")
   .attr("font-weight", "bold")
   .attr("font-size", "18px")
   .attr("fill", "#000");
svg.append("text").text("(b)")
   .attr("x", 380).attr("y", 912)
   .attr("text-anchor", "middle")
   .attr("font-family", "'Liberation Serif', 'DejaVu Serif', serif")
   .attr("font-weight", "bold")
   .attr("font-size", "18px")
   .attr("fill", "#000");
</script>
</body>
</html>
